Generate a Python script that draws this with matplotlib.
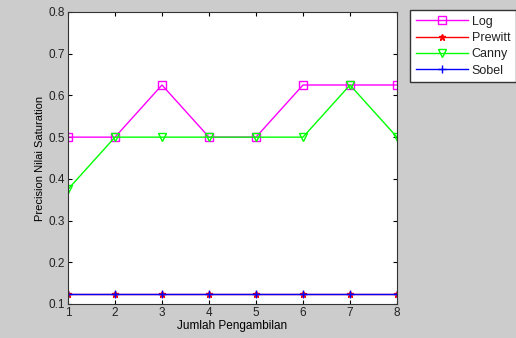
import matplotlib
matplotlib.use("Agg")
import matplotlib.pyplot as plt

# precision per trial for each edge detector
x = [1, 2, 3, 4, 5, 6, 7, 8]
log_vals = [0.5, 0.5, 0.625, 0.5, 0.5, 0.625, 0.625, 0.625]
prewitt_vals = [0.125, 0.125, 0.125, 0.125, 0.125, 0.125, 0.125, 0.125]
canny_vals = [0.375, 0.5, 0.5, 0.5, 0.5, 0.5, 0.625, 0.5]
sobel_vals = [0.125, 0.125, 0.125, 0.125, 0.125, 0.125, 0.125, 0.125]

plt.rcParams['font.family'] = ['Liberation Sans', 'DejaVu Sans']
plt.rcParams['text.color'] = '#222222'

fig = plt.figure(figsize=(5.16, 3.38), dpi=100, facecolor='#cccccc')
ax = fig.add_axes([68/516, 34/338, 329/516, 292/338])

ax.plot(x, log_vals, color='#ff00ff', marker='s', mfc='none', ms=5.5, lw=1, label='Log')
ax.plot(x, prewitt_vals, color='#ff0000', marker='*', ms=5, lw=1, label='Prewitt')
ax.plot(x, canny_vals, color='#00ff00', marker='v', mfc='none', ms=6, lw=1, label='Canny')
ax.plot(x, sobel_vals, color='#0000ff', marker='+', ms=6, lw=1, label='Sobel')

ax.set_xlim(1, 8)
ax.set_ylim(0.1, 0.8)
ax.set_xticks(x)
ax.set_yticks([0.1, 0.2, 0.3, 0.4, 0.5, 0.6, 0.7, 0.8])
ax.tick_params(direction='in', top=True, right=True, labelsize=8.5, length=3, pad=2,
               labelcolor='#222222')
for s in ax.spines.values():
    s.set_color('#333333')
ax.set_xlabel('Jumlah Pengambilan', fontsize=8.5, labelpad=1)
ax.set_ylabel('Precision Nilai Saturation', fontsize=8, labelpad=3)

fig.legend(loc='upper left', bbox_to_anchor=(410/516, 1 - 10/338), fontsize=9,
           fancybox=False, edgecolor='#333333', framealpha=1, handlelength=4.2,
           borderpad=0.45, labelspacing=0.35, handletextpad=0.3, borderaxespad=0)

fig.savefig('out.png', dpi=100, facecolor=fig.get_facecolor())
